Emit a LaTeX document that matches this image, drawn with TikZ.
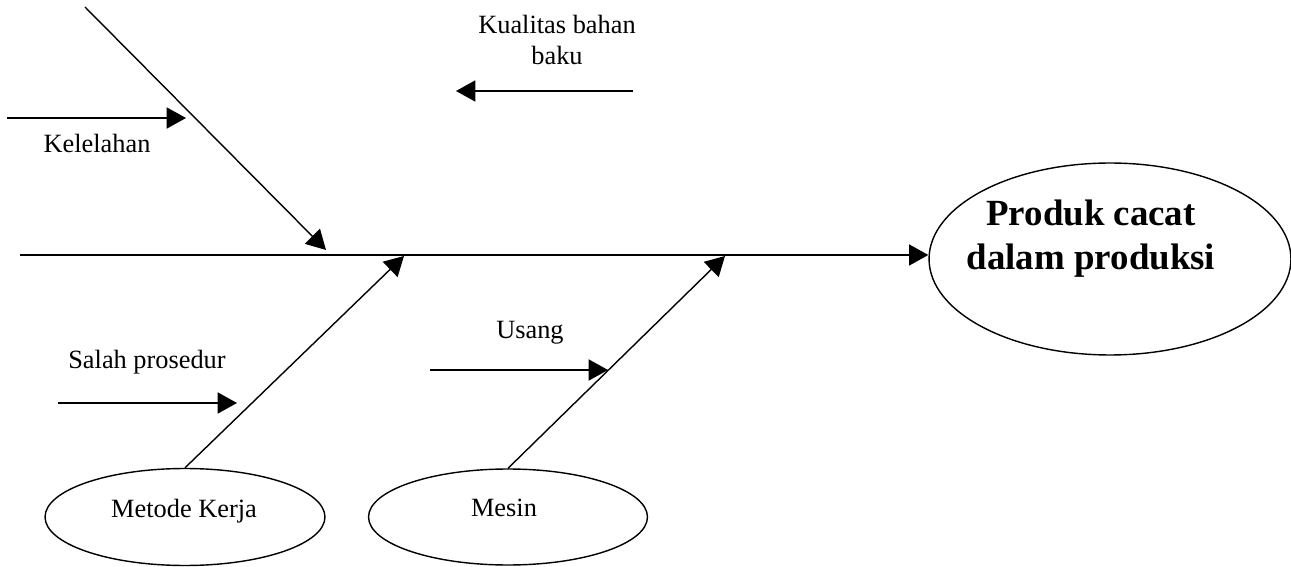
\documentclass[tikz,border=0pt]{standalone}
\usepackage{fontspec}
\setmainfont{Liberation Serif}
\usetikzlibrary{arrows.meta, shapes.geometric}

\begin{document}
\begin{tikzpicture}[x=0.02cm, y=-0.02cm, line width=0.8pt,
	tip/.style={-{Triangle[length=11pt, width=12pt]}},
	lbl/.style={font=\fontsize{15}{18}\selectfont, align=center, inner sep=0pt, anchor=base},
	biglbl/.style={font=\fontsize{21}{25.5}\selectfont\bfseries, align=center, inner sep=0pt, anchor=base},
	oval/.style={draw, ellipse, inner sep=0pt}]
	\useasboundingbox (0,0) rectangle (1291,567);
	\node[oval, minimum width=7.24cm, minimum height=3.84cm] (effect) at (1110,259) {};
	\node[biglbl] (effecttext) at (1091,270) {Produk cacat\\dalam produksi};
	\node[oval, minimum width=5.6cm, minimum height=1.94cm] (metode) at (185,517) {};
	\node[lbl] (metodetext) at (184,517) {Metode Kerja};
	\node[oval, minimum width=5.58cm, minimum height=1.92cm] (mesin) at (508,517) {};
	\node[lbl] (mesintext) at (504,516) {Mesin};
	\coordinate (spine) at (20,255);
	\coordinate (top) at (85,7);
	\coordinate (j1) at (326,250);
	\coordinate (j2) at (404,256);
	\coordinate (j3) at (725,256);
	\draw[tip] (spine) -- (spine -| effect.west);
	\draw[tip] (top) -- (j1);
	\draw[tip] (metode.north) -- (j2);
	\draw[tip] (mesin.north) -- (j3);
	\foreach \name/\xa/\xb/\y in {kelelahan/7/186/118, kualitas/633/456/91, salah/58/237/403, usang/430/608/370} {
		\coordinate (\name0) at (\xa,\y);
		\coordinate (\name1) at (\xb,\y);
		\draw[tip] (\name0) -- (\name1);
	}
	\node[lbl] (kelelahantext) at (97,153) {Kelelahan};
	\node[lbl] (kualitastext) at (557,65) {Kualitas bahan\\baku};
	\node[lbl] (salahtext) at (147,369) {Salah prosedur};
	\node[lbl] (usangtext) at (530,338) {Usang};
\end{tikzpicture}
\end{document}
